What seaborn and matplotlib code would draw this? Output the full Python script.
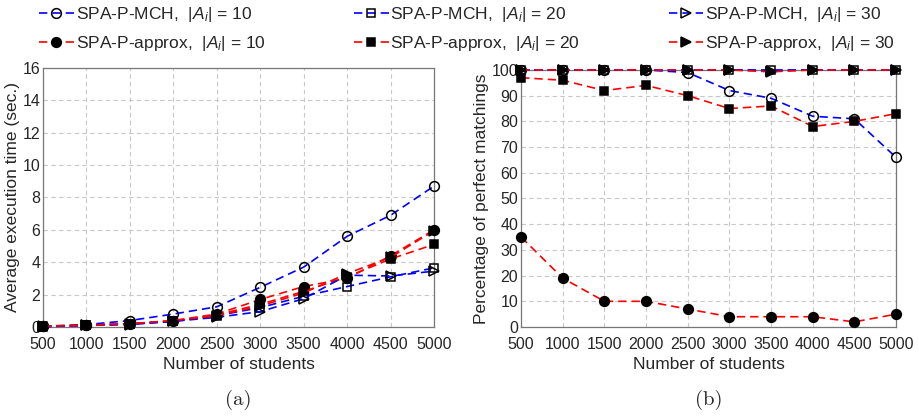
import numpy as np
import pandas as pd
import matplotlib
matplotlib.use("Agg")
import matplotlib.pyplot as plt
import seaborn as sns

students = [500, 1000, 1500, 2000, 2500, 3000, 3500, 4000, 4500, 5000]

# (a) average execution time (sec.)
time_mch_10 = [0.05, 0.15, 0.40, 0.80, 1.25, 2.45, 3.70, 5.60, 6.90, 8.70]
time_mch_20 = [0.02, 0.10, 0.20, 0.35, 0.70, 1.20, 1.90, 2.50, 3.10, 3.65]
time_mch_30 = [0.02, 0.10, 0.15, 0.35, 0.60, 0.95, 1.75, 3.20, 3.15, 3.45]
time_apx_10 = [0.05, 0.12, 0.20, 0.40, 0.80, 1.70, 2.50, 3.00, 4.40, 6.00]
time_apx_20 = [0.05, 0.10, 0.20, 0.35, 0.75, 1.40, 2.20, 3.10, 4.20, 5.10]
time_apx_30 = [0.05, 0.10, 0.20, 0.40, 0.70, 1.30, 2.10, 3.30, 4.30, 5.95]

# (b) percentage of perfect matchings
pct_mch_10 = [100, 100, 100, 100, 99, 92, 89, 82, 81, 66]
pct_mch_20 = [100, 100, 100, 100, 100, 100, 100, 100, 100, 100]
pct_mch_30 = [100, 100, 100, 100, 100, 100, 99.7, 100, 100, 100]
pct_apx_10 = [35, 19, 10, 10, 7, 4, 4, 4, 2, 5]
pct_apx_20 = [97, 96, 92, 94, 90, 85, 86, 78, 80, 83]
pct_apx_30 = [100, 100, 100, 100, 100, 100, 99.3, 100, 100, 100]

labels = [
    r"SPA-P-MCH,  $|A_i|$ = 10", r"SPA-P-approx,  $|A_i|$ = 10",
    r"SPA-P-MCH,  $|A_i|$ = 20", r"SPA-P-approx,  $|A_i|$ = 20",
    r"SPA-P-MCH,  $|A_i|$ = 30", r"SPA-P-approx,  $|A_i|$ = 30",
]
# (colour, marker, face colour, size)
styles = [
    ("#0000ff", "o", "none", 7),
    ("#ff0000", "o", "black", 7),
    ("#0000ff", "s", "none", 5.5),
    ("#ff0000", "s", "black", 5.5),
    ("#0000ff", ">", "none", 7),
    ("#ff0000", ">", "black", 7),
]

sns.set_style("white")
plt.rcParams["font.family"] = ["Liberation Sans", "DejaVu Sans"]
plt.rcParams["mathtext.fontset"] = "custom"
plt.rcParams["mathtext.rm"] = "Liberation Sans"
plt.rcParams["mathtext.it"] = "Liberation Sans:italic"

fig = plt.figure(figsize=(9.19, 4.2), dpi=100)
ax_a = fig.add_axes([0.0468, 0.2214, 0.4255, 0.617])
ax_b = fig.add_axes([0.567, 0.2214, 0.408, 0.612])

series_a = [time_mch_10, time_apx_10, time_mch_20, time_apx_20, time_mch_30, time_apx_30]
series_b = [pct_mch_10, pct_apx_10, pct_mch_20, pct_apx_20, pct_mch_30, pct_apx_30]

for ax, series in [(ax_a, series_a), (ax_b, series_b)]:
    for vals, lab, (col, mk, fc, ms) in zip(series, labels, styles):
        sns.lineplot(x=students, y=vals, ax=ax, color=col, linestyle=(0, (5, 3)),
                     linewidth=1.2, marker=mk, markersize=ms, markerfacecolor=fc,
                     markeredgecolor="black", markeredgewidth=1.1, label=lab,
                     clip_on=False, zorder=3)
    ax.get_legend().remove()
    ax.set_xlim(500, 5000)
    ax.set_xticks(students)
    ax.grid(True, color="#c8c8c8", linestyle=(0, (4, 3)), linewidth=0.8)
    for s in ax.spines.values():
        s.set_visible(True)
        s.set_color("#777777")
        s.set_linewidth(0.9)
    ax.tick_params(labelsize=11.5, length=0)
    ax.tick_params(axis="x", pad=7)
    ax.tick_params(axis="y", pad=2)
    ax.set_xlabel("Number of students", fontsize=12.5, labelpad=4)

ax_a.set_ylim(0, 16)
ax_a.set_yticks(range(0, 17, 2))
ax_a.set_ylabel("Average execution time (sec.)", fontsize=12.5, labelpad=2)

ax_b.set_ylim(0, 100)
ax_b.set_yticks(range(0, 101, 10))
ax_b.set_ylabel("Percentage of perfect matchings", fontsize=12.5, labelpad=2)

handles, labs = ax_a.get_legend_handles_labels()
fig.legend(handles, labs, ncol=3, loc="upper left", bbox_to_anchor=(0.035, 1.005),
           frameon=False, fontsize=12.5, handlelength=2.0, handletextpad=0.1,
           columnspacing=5.1, labelspacing=0.6, borderaxespad=0)

fig.text(0.259, 0.035, "(a)", ha="center", fontsize=15, family="cmr10")
fig.text(0.771, 0.035, "(b)", ha="center", fontsize=15, family="cmr10")

fig.savefig("out.png", dpi=100)
